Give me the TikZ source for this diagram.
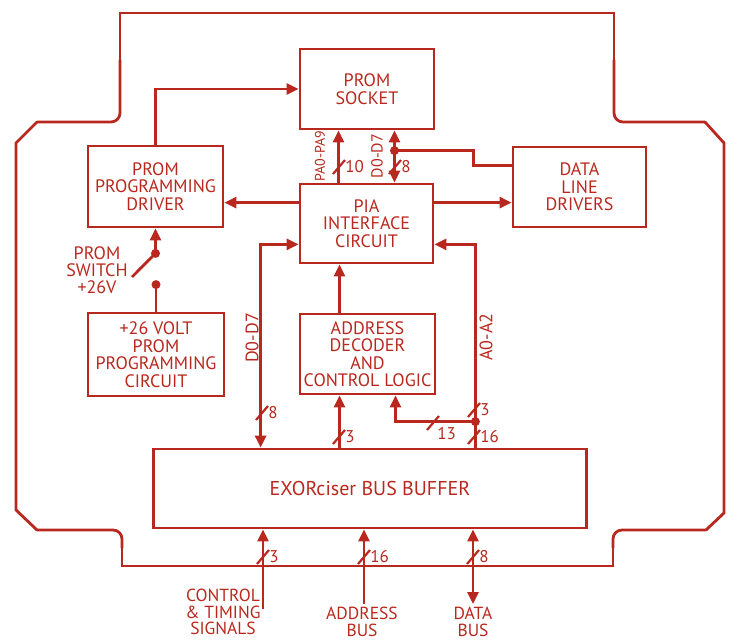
\documentclass[tikz,border=0pt]{standalone}
\usepackage{fontspec}
\setmainfont{PT Sans}
\usetikzlibrary{calc,arrows.meta}
\definecolor{ink}{RGB}{185,40,30}

\begin{document}
\begin{tikzpicture}[x=1pt, y=-1pt, color=ink, line width=2.8pt,
    blk/.style={draw, align=center, inner sep=0pt, font=\fontsize{18pt}{17.5pt}\selectfont},
    lbl/.style={align=center, inner sep=0pt, font=\fontsize{18pt}{17pt}\selectfont},
    num/.style={inner sep=0pt, font=\fontsize{17pt}{17pt}\selectfont},
    edge/.style={line cap=round},
    arr/.style={-{Triangle[length=12pt,width=11pt]}},
    arr2/.style={{Triangle[length=12pt,width=11pt]}-{Triangle[length=12pt,width=11pt]}}]
    \useasboundingbox (0,0) rectangle (732,642);

    % board outline
    \draw[edge] (120,60) -- (120,13) -- (614,13) -- (614,60);
    \draw[edge, rounded corners=9pt] (614,60) -- (614,122) -- (705,122);
    \draw[edge] (705,122) -- (724,143) -- (724,513) -- (706,530);
    \draw[edge, rounded corners=9pt] (706,530) -- (613,530) -- (613,548);
    \draw[edge] (613,548) -- (613,566) -- (122,566) -- (122,548);
    \draw[edge, rounded corners=9pt] (122,548) -- (122,530) -- (37,530);
    \draw[edge] (37,530) -- (16,510) -- (16,143) -- (37,122);
    \draw[edge, rounded corners=9pt] (37,122) -- (120,122) -- (120,60);

    \node[blk, minimum width=134pt, minimum height=80pt] (socket) at (367,89) {PROM\\SOCKET};
    \node[blk, minimum width=135pt, minimum height=81pt] (driver) at (155.5,186.5) {PROM\\PROGRAMMING\\DRIVER};
    \node[blk, minimum width=133pt, minimum height=79pt] (pia) at (366.5,223.5) {PIA\\INTERFACE\\CIRCUIT};
    \node[blk, minimum width=133pt, minimum height=80pt] (dld) at (579.5,187) {DATA\\LINE\\DRIVERS};
    \node[blk, minimum width=136pt, minimum height=83pt] (volt) at (156,354.5) {+26 VOLT\\PROM\\PROGRAMMING\\CIRCUIT};
    \node[blk, minimum width=135pt, minimum height=80pt] (decoder) at (367.5,354) {ADDRESS\\DECODER\\AND\\CONTROL LOGIC};
    \node[blk, minimum width=433pt, minimum height=79pt, font=\fontsize{20pt}{20pt}\selectfont] (buffer) at (370,488.5) {EXORciser BUS BUFFER};

    % driver -> socket
    \draw[arr] (driver.north) |- (socket.west);

    % pia <-> socket
    \coordinate (pa) at ([xshift=-28pt]pia.north);
    \coordinate (pd) at ([xshift=28pt]pia.north);
    \coordinate (jd) at ([yshift=32pt]pd);
    \coordinate (dl) at ([yshift=-20pt]dld.north west);
    \draw[arr] (pa) -- (pa |- socket.south);
    \draw[arr2] (pd) -- (pd |- socket.south);
    \draw (jd) -- ++(79,0) |- (dl);

    % pia sides
    \coordinate (pl1) at ([yshift=-20pt]pia.north west);
    \coordinate (pl2) at ([yshift=20pt]pia.south west);
    \coordinate (pr1) at ([yshift=-20pt]pia.north east);
    \coordinate (pr2) at ([yshift=20pt]pia.south east);
    \draw[arr] (pl1) -- (pl1 -| driver.east);
    \draw[arr] (pr1) -- (pr1 -| dld.west);
    \coordinate (dcol) at ([xshift=-38pt]pl2);
    \coordinate (acol) at ([xshift=41pt]pr2);
    \draw[arr2] (dcol |- buffer.north) -- (dcol) -- (pl2);
    \draw[arr] (acol |- buffer.north) -- (acol) -- (pr2);

    % decoder
    \coordinate (dt) at ([xshift=-28pt]decoder.north);
    \coordinate (db1) at ([xshift=-28pt]decoder.south);
    \coordinate (db2) at ([xshift=28pt]decoder.south);
    \coordinate (bt) at (acol |- buffer.north);
    \coordinate (ja) at ([yshift=26pt]bt);
    \draw[arr] (dt) -- (dt |- pia.south);
    \draw[arr] (db1 |- buffer.north) -- (db1);
    \draw[arr] (ja) -| (db2);

    % prom switch
    \coordinate (swa) at ([yshift=-25pt]driver.south);
    \coordinate (swb) at ([yshift=27pt]volt.north);
    \coordinate (swt) at (132,277);
    \draw[arr] (swa) -- (driver.south);
    \draw (swb) -- (volt.north);
    \draw (swt) -- (swa);
    \node[lbl] (swlbl) at (97,270) {PROM\\SWITCH\\+26V};

    % external buses
    \coordinate (ct) at (263,609);
    \coordinate (ab) at (364,604);
    \coordinate (dbus) at (473,604);
    \draw[arr] (ct) -- (ct |- buffer.south);
    \draw[arr] (ab) -- (ab |- buffer.south);
    \draw[arr2] (dbus) -- (dbus |- buffer.south);
    \node[lbl, anchor=north, font=\fontsize{17.5pt}{16.5pt}\selectfont] (ctlbl) at (223,588) {CONTROL\\\& TIMING\\SIGNALS};
    \node[lbl, anchor=north, font=\fontsize{17.5pt}{17pt}\selectfont] (ablbl) at (362,606) {ADDRESS\\BUS};
    \node[lbl, anchor=north, font=\fontsize{17.5pt}{17pt}\selectfont] (dblbl) at (473,606) {DATA\\BUS};

    \foreach \p in {swa,swb,jd,ja} {\fill (\p) circle (4.5pt);}

    % bus widths
    \foreach \x/\y/\n in {339/167/10, 395/167/8, 262/413/8, 339/437/3, 474/410/3,
        474/437/16, 263/557/3, 364/557/16, 473/557/8}
    {
        \draw[line width=2.2pt] (\x-6,\y+7) -- (\x+6,\y-7);
        \node[num, anchor=west] (w\x-\y) at (\x+5,\y) {\n};
    }
    \draw[line width=2.2pt] (427,430) -- (439,416);
    \node[num, anchor=west] (w13) at (436,434) {13};

    \node[num, rotate=90, font=\fontsize{14pt}{14pt}\selectfont] (palbl) at (320,156) {PA0-PA9};
    \node[num, rotate=90, font=\fontsize{16pt}{16pt}\selectfont] (sdlbl) at (377,156) {D0-D7};
    \node[num, rotate=90, font=\fontsize{18pt}{18pt}\selectfont] (ddlbl) at (252,338) {D0-D7};
    \node[num, rotate=90, font=\fontsize{18pt}{18pt}\selectfont] (adlbl) at (486,337) {A0-A2};
\end{tikzpicture}
\end{document}
